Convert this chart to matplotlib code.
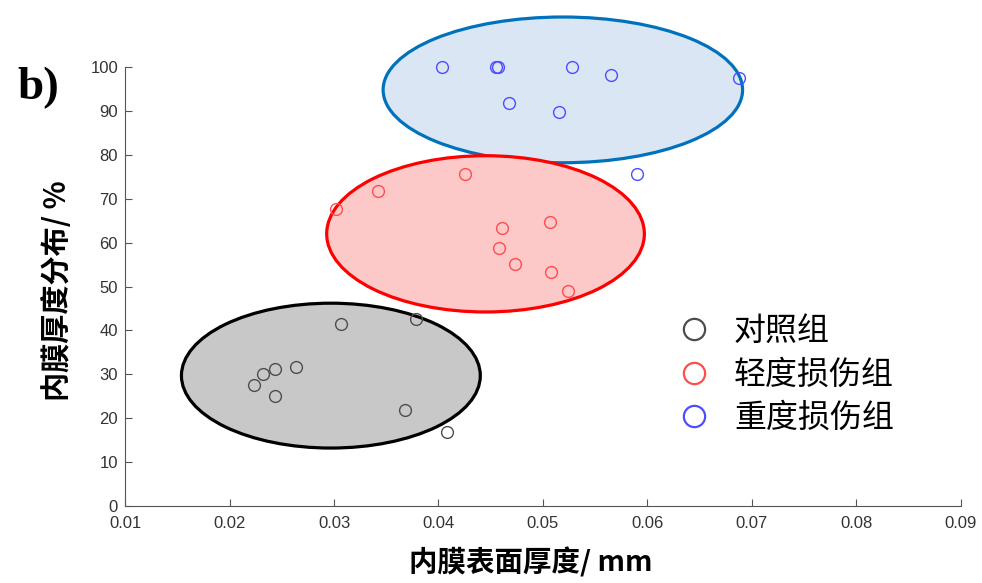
import matplotlib
matplotlib.use('Agg')
import matplotlib.pyplot as plt
from matplotlib.patches import Ellipse

plt.rcParams['font.family'] = ['Liberation Sans', 'Noto Sans CJK SC', 'DejaVu Sans']

# 数据
ctrl_x = [0.0307, 0.0378, 0.0264, 0.0244, 0.0232, 0.0223, 0.0244, 0.0368, 0.0408]
ctrl_y = [41.5, 42.6, 31.7, 31.2, 30.1, 27.6, 25.1, 21.9, 16.9]
mild_x = [0.0302, 0.0342, 0.0425, 0.0461, 0.0458, 0.0507, 0.0473, 0.0508, 0.0524]
mild_y = [67.6, 71.8, 75.6, 63.3, 58.8, 64.7, 55.1, 53.3, 49.0]
sev_x = [0.0403, 0.0455, 0.0457, 0.0528, 0.0565, 0.0688, 0.0467, 0.0515, 0.0590]
sev_y = [100.0, 100.0, 100.0, 100.0, 98.2, 97.5, 91.8, 89.7, 75.6]

# 椭圆: 中心, 宽, 高
ell_center = [(0.0297, 29.7), (0.0445, 62.0), (0.0519, 94.8)]
ell_w = [0.0286, 0.0304, 0.0344]
ell_h = [33.0, 35.6, 33.2]
ell_edge = ['black', '#ff0000', '#0072BD']
ell_face = ['#c8c8c8', '#fcc8c8', '#dae6f3']

labels = ['对照组', '轻度损伤组', '重度损伤组']
mcolors = ['#4d4d4d', '#ff4d4d', '#4d4dff']

fig = plt.figure(figsize=(9.82, 5.83), dpi=100)
ax = fig.add_axes([0.1273, 0.1321, 0.8513, 0.7529])

# 椭圆 (蓝色先画, 红色在上)
for i in [0, 2, 1]:
    e = Ellipse(ell_center[i], ell_w[i], ell_h[i], facecolor=ell_face[i],
                edgecolor=ell_edge[i], linewidth=2.3, clip_on=False, zorder=1)
    ax.add_patch(e)

for xs, ys, c, lab in zip([ctrl_x, mild_x, sev_x], [ctrl_y, mild_y, sev_y], mcolors, labels):
    ax.plot(xs, ys, 'o', markerfacecolor='none', markeredgecolor=c, markersize=8.5,
            markeredgewidth=1.0, label=lab, zorder=3, clip_on=False)

ax.set_xlim(0.01, 0.09)
ax.set_ylim(0, 100)
ax.set_xticks([0.01, 0.02, 0.03, 0.04, 0.05, 0.06, 0.07, 0.08, 0.09])
ax.set_xticklabels(['0.01', '0.02', '0.03', '0.04', '0.05', '0.06', '0.07', '0.08', '0.09'])
ax.set_yticks(range(0, 101, 10))

for s in ['top', 'right']:
    ax.spines[s].set_visible(False)
for s in ['left', 'bottom']:
    ax.spines[s].set_color('#555555')
    ax.spines[s].set_linewidth(0.8)
ax.tick_params(direction='in', length=5, width=0.8, colors='#555555', labelsize=12,
               labelcolor='#333333')
ax.tick_params(axis='x', pad=7)
ax.tick_params(axis='y', pad=5)

ax.set_xlabel('内膜表面厚度/ mm', fontsize=20.5, fontweight='bold',
              family=['Noto Sans CJK SC', 'DejaVu Sans'])
ax.xaxis.set_label_coords(0.485, -0.095)
ax.set_ylabel('内膜厚度分布/ %', fontsize=21, fontweight='bold',
              family=['Noto Sans CJK SC', 'DejaVu Sans'])
ax.yaxis.set_label_coords(-0.063, 0.49)

leg = ax.legend(loc='upper left', bbox_to_anchor=(0.608, 0.5), frameon=False,
                prop={'family': ['Noto Sans CJK SC'], 'size': 23},
                handletextpad=0.25, labelspacing=0.36, markerscale=1.8)
for h in leg.legend_handles:
    h.set_markeredgewidth(1.6)

fig.text(0.018, 0.83, 'b)', fontsize=34, fontweight='bold', family='Liberation Serif')

plt.savefig('out.png', dpi=100)
